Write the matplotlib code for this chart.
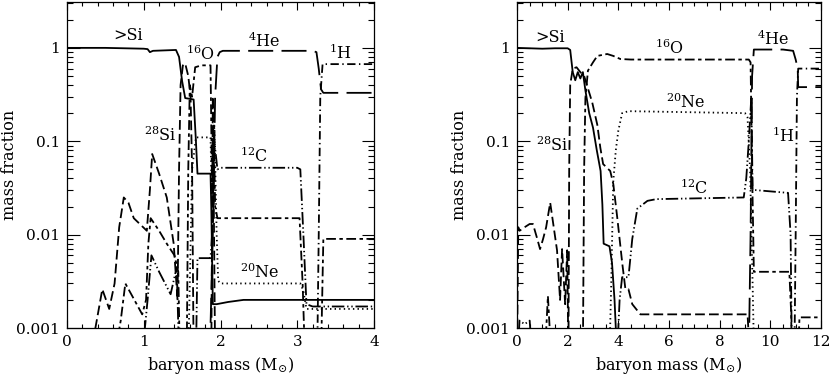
import matplotlib
matplotlib.use('Agg')
import matplotlib.pyplot as plt
from matplotlib.ticker import FixedLocator, FixedFormatter, MultipleLocator, LogLocator, NullFormatter

plt.rcParams['font.family'] = ['DejaVu Serif']
plt.rcParams['mathtext.fontset'] = 'dejavuserif'
plt.rcParams['lines.scale_dashes'] = False

# ---------------- data: left panel ----------------
L_sigt_x = [0, 0.5, 1.0, 1.05, 1.08, 1.12, 1.42, 1.46, 1.5, 1.54, 1.65, 1.68, 1.70, 1.87, 1.88, 1.9, 1.95, 2.1, 2.3, 3.0, 4.0]
L_sigt_y = [1.0, 1.0, 0.98, 0.97, 0.9, 0.93, 0.95, 0.8, 0.44, 0.29, 0.28, 0.1, 0.045, 0.045, 0.02, 0.0018, 0.0018, 0.0019, 0.002, 0.002, 0.002]

L_si28_x = [0.3, 0.37, 0.46, 0.55, 0.62, 0.68, 0.74, 0.8, 0.87, 1.04, 1.08, 1.11, 1.2, 1.3, 1.39, 1.44, 1.46, 1.48, 1.51, 1.54, 1.58, 1.61, 1.63, 1.65, 1.88, 1.9, 1.93]
L_si28_y = [0.0005, 0.001, 0.0026, 0.0016, 0.003, 0.012, 0.025, 0.022, 0.015, 0.011, 0.03, 0.073, 0.045, 0.025, 0.008, 0.002, 0.05, 0.4, 0.65, 0.68, 0.5, 0.3, 0.05, 0.0005, 0.0005, 0.3, 0.0005]

L_o16_x = [0.62, 0.7, 0.76, 0.85, 0.98, 1.03, 1.06, 1.09, 1.2, 1.3, 1.4, 1.45, 1.47, 1.56, 1.58, 1.6, 1.63, 1.67, 1.75, 1.87, 1.89, 1.91, 1.93, 1.96, 2.0, 3.03, 3.07, 3.1, 3.31, 3.34, 4.0]
L_o16_y = [0.0005, 0.0012, 0.003, 0.0022, 0.0014, 0.002, 0.008, 0.015, 0.011, 0.008, 0.006, 0.004, 0.0005, 0.0005, 0.05, 0.4, 0.3, 0.62, 0.65, 0.65, 0.03, 0.2, 0.02, 0.015, 0.015, 0.015, 0.003, 0.0005, 0.0005, 0.009, 0.009]

L_c12_x = [0.98, 1.05, 1.1, 1.2, 1.35, 1.43, 1.46, 1.68, 1.7, 1.87, 1.89, 1.92, 1.96, 2.0, 3.0, 3.04, 3.08, 3.12, 3.2, 4.0]
L_c12_y = [0.0005, 0.002, 0.006, 0.004, 0.0023, 0.0045, 0.0005, 0.0005, 0.0056, 0.0056, 0.01, 0.1, 0.05, 0.052, 0.052, 0.05, 0.01, 0.0018, 0.0017, 0.0017]

L_ne20_x = [1.58, 1.6, 1.63, 1.68, 1.87, 1.89, 1.92, 1.95, 1.97, 2.0, 3.04, 3.08, 3.12, 4.0]
L_ne20_y = [0.0005, 0.003, 0.05, 0.11, 0.11, 0.02, 0.15, 0.01, 0.0032, 0.003, 0.003, 0.0025, 0.0016, 0.0016]

L_he4_x = [1.86, 1.9, 1.93, 1.96, 1.99, 2.03, 3.2, 3.25, 3.28, 3.31, 3.34, 4.0]
L_he4_y = [0.0005, 0.01, 0.3, 0.8, 0.9, 0.93, 0.93, 0.9, 0.6, 0.36, 0.33, 0.33]

L_h1_x = [3.26, 3.28, 3.3, 3.33, 4.0]
L_h1_y = [0.0005, 0.01, 0.3, 0.67, 0.67]

# ---------------- data: right panel ----------------
R_sigt_x = [0, 1.0, 1.5, 2.0, 2.1, 2.2, 2.3, 2.4, 2.5, 2.6, 2.7, 2.85, 3.0, 3.15, 3.3, 3.37, 3.42, 3.65, 3.75, 3.85, 3.95]
R_sigt_y = [1.0, 0.98, 0.99, 0.99, 0.95, 0.55, 0.45, 0.55, 0.47, 0.55, 0.35, 0.2, 0.14, 0.08, 0.048, 0.021, 0.008, 0.0075, 0.005, 0.002, 0.0005]

R_si28_x = [0, 0.05, 0.1, 0.3, 0.5, 0.63, 0.8, 0.91, 1.03, 1.15, 1.31, 1.45, 1.58, 1.7, 1.78, 1.9, 1.98, 2.03, 2.06, 2.1, 2.2, 2.35, 2.5, 2.65, 2.97, 3.17, 3.29, 3.4, 3.68, 3.8, 3.96, 4.16, 4.28, 4.4, 4.55, 4.87, 9.1, 9.15, 9.2]
R_si28_y = [0.0005, 0.012, 0.011, 0.012, 0.013, 0.013, 0.009, 0.007, 0.009, 0.012, 0.022, 0.012, 0.0068, 0.002, 0.007, 0.0018, 0.0068, 0.0005, 0.05, 0.4, 0.6, 0.62, 0.55, 0.5, 0.26, 0.15, 0.085, 0.057, 0.048, 0.035, 0.015, 0.0048, 0.0026, 0.0026, 0.0018, 0.0014, 0.0014, 0.0008, 0.0005]

R_o16_x = [1.1, 1.22, 1.35, 2.6, 2.65, 2.7, 2.8, 3.0, 3.17, 3.56, 3.8, 4.08, 4.5, 9.15, 9.22, 9.28, 9.35, 10.75, 10.82, 10.85, 11.1, 11.15, 12]
R_o16_y = [0.0005, 0.0022, 0.0005, 0.0005, 0.05, 0.29, 0.57, 0.7, 0.82, 0.86, 0.82, 0.76, 0.75, 0.75, 0.7, 0.05, 0.004, 0.004, 0.0015, 0.0005, 0.0005, 0.0013, 0.0013]

R_ne20_x = [3.65, 3.72, 3.8, 3.9, 4.0, 4.15, 4.4, 9.0, 9.1, 9.2, 9.3, 9.36]
R_ne20_y = [0.0005, 0.003, 0.037, 0.08, 0.13, 0.2, 0.21, 0.2, 0.18, 0.05, 0.003, 0.0005]

R_c12_x = [0.02, 0.1, 0.3, 0.5, 0.6, 3.95, 4.05, 4.15, 4.4, 4.55, 4.75, 5.15, 5.5, 8.95, 9.05, 9.15, 9.25, 9.3, 9.4, 10.7, 10.8, 10.85]
R_c12_y = [0.0005, 0.0012, 0.0011, 0.0012, 0.0005, 0.0005, 0.002, 0.0035, 0.0035, 0.009, 0.019, 0.023, 0.024, 0.025, 0.04, 0.1, 0.3, 0.03, 0.03, 0.028, 0.01, 0.0005]

R_he4_x = [9.15, 9.22, 9.28, 9.35, 10.5, 10.9, 11.0, 11.08, 11.1, 12]
R_he4_y = [0.0005, 0.01, 0.5, 0.96, 0.96, 0.93, 0.75, 0.6, 0.38, 0.38]

R_h1_x = [10.95, 11.0, 11.05, 11.1, 12]
R_h1_y = [0.0005, 0.01, 0.3, 0.6, 0.6]

# labels
L_labels = [('>Si', 0.8, 1.35), (r'$^{16}$O', 1.74, 0.86), (r'$^{4}$He', 2.57, 1.19),
            (r'$^{1}$H', 3.56, 0.88), (r'$^{28}$Si', 1.22, 0.114), (r'$^{12}$C', 2.44, 0.069),
            (r'$^{20}$Ne', 2.51, 0.0039)]
R_labels = [('>Si', 1.31, 1.28), (r'$^{16}$O', 6.02, 1.0), (r'$^{20}$Ne', 6.65, 0.257),
            (r'$^{4}$He', 10.1, 1.25), (r'$^{1}$H', 10.5, 0.114), (r'$^{12}$C', 7.0, 0.031),
            (r'$^{28}$Si', 1.39, 0.089)]

ytick_vals = [0.001, 0.01, 0.1, 1]
ytick_labels = ['0.001', '0.01', '0.1', '1']

STY = {
    'sigt': dict(linestyle='-'),
    'si28': dict(dashes=(7, 3)),
    'o16': dict(dashes=(7, 2.5, 2.5, 2.5)),
    'he4': dict(dashes=(18, 6)),
    'h1': dict(dashes=(6, 2.5, 1, 2.5)),
    'ne20': dict(dashes=(1, 2.3)),
    'c12': dict(dashes=(9, 2, 1, 2, 1, 2)),
}

fig = plt.figure(figsize=(8.30, 3.83), dpi=100)
axL = fig.add_axes([67/830, 1-328/383, 307/830, 326/383])
axR = fig.add_axes([517/830, 1-328/383, 304/830, 326/383])

def draw(ax, series, labels, xmax, major, minor):
    for key, xs, ys in series:
        ax.plot(xs, ys, color='black', lw=1.3, **STY[key])
    ax.set_yscale('log')
    ax.set_ylim(1e-3, 3.1)
    ax.set_xlim(0, xmax)
    ax.yaxis.set_major_locator(FixedLocator(ytick_vals))
    ax.yaxis.set_major_formatter(FixedFormatter(ytick_labels))
    ax.yaxis.set_minor_locator(LogLocator(base=10, subs=range(2, 10)))
    ax.yaxis.set_minor_formatter(NullFormatter())
    ax.xaxis.set_major_locator(MultipleLocator(major))
    ax.xaxis.set_minor_locator(MultipleLocator(minor))
    ax.tick_params(which='both', direction='in', top=True, right=True, width=0.8, labelsize=11)
    ax.tick_params(axis='x', which='major', length=6, pad=5)
    ax.tick_params(axis='x', which='minor', length=3.2)
    ax.tick_params(axis='y', which='major', length=9, pad=5)
    ax.tick_params(axis='y', which='minor', length=4.5)
    for s in ax.spines.values():
        s.set_linewidth(0.9)
    ax.set_xlabel(r'baryon mass (M$_{\odot}$)', fontsize=11.5, labelpad=4)
    ax.set_ylabel('mass fraction', fontsize=11.5)
    ax.yaxis.set_label_coords(-49 / 306, 0.5)
    for t, x, y in labels:
        ax.text(x, y, t, ha='center', va='center', fontsize=11.5)

draw(axL, [('sigt', L_sigt_x, L_sigt_y), ('si28', L_si28_x, L_si28_y), ('o16', L_o16_x, L_o16_y),
           ('c12', L_c12_x, L_c12_y), ('ne20', L_ne20_x, L_ne20_y), ('he4', L_he4_x, L_he4_y),
           ('h1', L_h1_x, L_h1_y)], L_labels, 4, 1, 0.2)
draw(axR, [('sigt', R_sigt_x, R_sigt_y), ('si28', R_si28_x, R_si28_y), ('o16', R_o16_x, R_o16_y),
           ('c12', R_c12_x, R_c12_y), ('ne20', R_ne20_x, R_ne20_y), ('he4', R_he4_x, R_he4_y),
           ('h1', R_h1_x, R_h1_y)], R_labels, 12, 2, 0.5)

fig.savefig('out.png', dpi=100)
